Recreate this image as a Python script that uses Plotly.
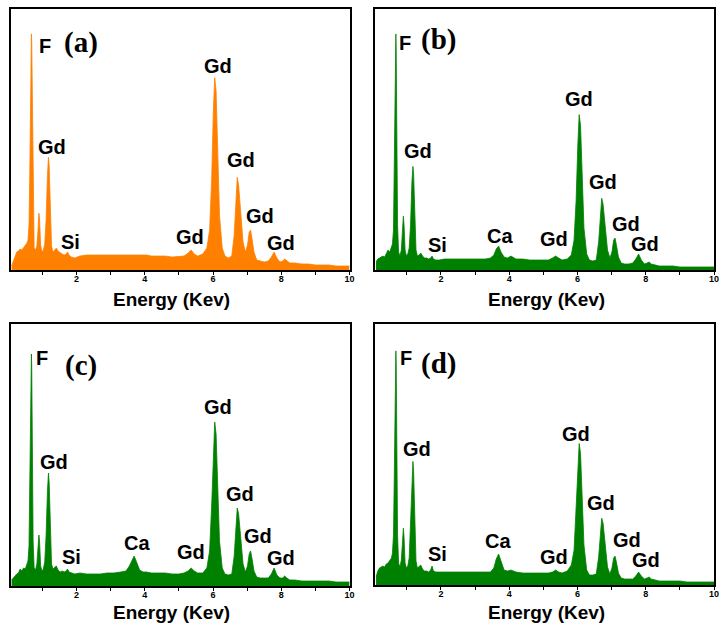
import plotly.graph_objects as go

# Energy grid (keV) shared by the four spectra
energy = [0.10, 0.15, 0.20, 0.25, 0.30, 0.35, 0.40, 0.45, 0.50, 0.55, 0.58, 0.61, 0.63, 0.65, 0.67, 0.68, 0.69,
          0.71, 0.73, 0.76, 0.80, 0.84, 0.87, 0.90, 0.92, 0.95, 0.99, 1.03, 1.07, 1.11, 1.15, 1.18, 1.20, 1.23,
          1.27, 1.31, 1.36, 1.41, 1.46, 1.52, 1.58, 1.64, 1.70, 1.74, 1.78, 1.85, 1.95, 2.1, 2.3, 2.5, 2.7, 2.9,
          3.1, 3.3, 3.45, 3.55, 3.62, 3.69, 3.76, 3.85, 3.95, 4.05, 4.2, 4.4, 4.6, 4.8, 5.0, 5.15, 5.27, 5.36,
          5.45, 5.55, 5.7, 5.82, 5.9, 5.96, 6.01, 6.05, 6.09, 6.13, 6.19, 6.27, 6.35, 6.45, 6.55, 6.62, 6.67,
          6.71, 6.75, 6.81, 6.88, 6.95, 7.01, 7.06, 7.10, 7.14, 7.20, 7.28, 7.38, 7.5, 7.62, 7.71, 7.79, 7.87,
          7.96, 8.04, 8.10, 8.16, 8.25, 8.4, 8.6, 8.8, 9.0, 9.2, 9.4, 9.6, 9.8, 10.0]

counts_a = [4, 9, 15, 18, 19, 21, 20, 22, 24, 27, 30, 45, 90, 170, 225, 237, 228,
            150, 60, 22, 20, 24, 38, 57, 50, 25, 18, 20, 26, 50, 95, 113, 105, 60,
            24, 18, 20, 22, 19, 17, 16, 15, 16, 18, 15, 13, 12, 14, 15, 15, 15, 15,
            15, 15, 15, 15, 15, 15, 15, 15, 15, 15, 14, 14, 14, 13, 14, 14, 17, 20,
            16, 14, 16, 22, 40, 90, 160, 193, 180, 120, 55, 22, 14, 12, 14, 35, 75,
            93, 85, 55, 28, 18, 25, 38, 40, 32, 18, 10, 9, 8, 9, 13, 18, 12,
            8, 9, 11, 9, 7, 7, 6, 6, 5, 5, 5, 4, 4, 4]

counts_b = [8, 11, 12, 13, 14, 13, 16, 20, 18, 22, 26, 40, 90, 180, 232, 237, 220,
            130, 45, 18, 14, 20, 35, 54, 45, 20, 14, 16, 22, 45, 88, 104, 96, 55,
            20, 14, 15, 17, 14, 12, 12, 11, 12, 14, 11, 10, 10, 11, 11, 11, 11, 11,
            11, 11, 12, 15, 21, 24, 18, 13, 12, 14, 11, 11, 10, 10, 10, 10, 12, 14,
            12, 10, 11, 15, 30, 70, 125, 156, 145, 95, 42, 16, 10, 9, 10, 28, 58,
            72, 66, 42, 20, 12, 18, 30, 32, 25, 13, 7, 6, 6, 7, 11, 16, 10,
            6, 7, 8, 6, 5, 4, 4, 4, 3, 3, 3, 3, 3, 3]

counts_c = [6, 8, 11, 12, 13, 17, 15, 18, 17, 22, 25, 40, 90, 175, 225, 232, 218,
            130, 45, 18, 16, 22, 38, 51, 44, 20, 15, 17, 24, 50, 95, 113, 104, 58,
            22, 17, 19, 20, 16, 14, 15, 14, 15, 17, 14, 13, 12, 13, 12, 12, 12, 13,
            13, 14, 15, 20, 26, 30, 24, 16, 14, 14, 13, 13, 13, 12, 12, 13, 15, 18,
            15, 13, 13, 18, 35, 80, 135, 164, 152, 100, 45, 18, 12, 11, 12, 30, 62,
            78, 72, 45, 22, 14, 20, 32, 35, 28, 15, 9, 8, 8, 8, 12, 18, 11,
            8, 8, 10, 8, 6, 6, 5, 5, 5, 5, 5, 4, 4, 4]

counts_d = [8, 14, 17, 18, 19, 18, 21, 22, 24, 27, 32, 50, 100, 185, 230, 235, 222,
            140, 50, 22, 18, 25, 42, 57, 48, 22, 17, 19, 27, 60, 105, 124, 114, 65,
            24, 17, 19, 20, 16, 14, 14, 13, 15, 19, 14, 13, 13, 13, 13, 13, 13, 13,
            13, 13, 13, 17, 26, 31, 24, 15, 14, 15, 13, 12, 12, 12, 12, 12, 13, 15,
            13, 12, 14, 20, 35, 75, 120, 142, 132, 88, 40, 15, 10, 10, 11, 28, 55,
            67, 62, 40, 18, 11, 17, 27, 29, 23, 12, 7, 6, 6, 6, 9, 13, 9,
            6, 7, 8, 6, 5, 4, 4, 4, 4, 3, 3, 3, 3, 3]

panel_names = ["(a)", "(b)", "(c)", "(d)"]
tick_values = [2, 4, 6, 8, 10]
tick_labels = ["2", "4", "6", "8", "10"]
axis_title = "Energy (Kev)"

# Peak labels per panel: (text, energy, height)
labels_a = [("F", 1.07, 225), ("Gd", 1.27, 123), ("Si", 1.82, 28), ("Gd", 5.34, 33), ("Gd", 6.16, 205),
            ("Gd", 6.83, 110), ("Gd", 7.38, 54), ("Gd", 8.0, 27)]
labels_b = [("F", 0.95, 228), ("Gd", 1.32, 119), ("Si", 1.89, 25), ("Ca", 3.74, 34), ("Gd", 5.31, 31),
            ("Gd", 6.04, 172), ("Gd", 6.74, 88), ("Gd", 7.42, 46), ("Gd", 7.98, 26)]
labels_c = [("F", 0.99, 228), ("Gd", 1.33, 124), ("Si", 1.84, 29), ("Ca", 3.76, 43), ("Gd", 5.35, 34),
            ("Gd", 6.16, 179), ("Gd", 6.79, 92), ("Gd", 7.32, 50), ("Gd", 7.98, 28)]
labels_d = [("F", 0.98, 228), ("Gd", 1.29, 137), ("Si", 1.90, 31), ("Ca", 3.66, 44), ("Gd", 5.31, 28),
            ("Gd", 5.97, 152), ("Gd", 6.70, 82), ("Gd", 7.46, 45), ("Gd", 8.0, 25)]
# panel-letter positions (energy, height)
letter_pos = [(2.12, 228), (1.92, 231), (2.14, 221), (1.92, 222)]

W, H = 722, 627
# panel frames in pixels: (left, right, top, bottom)
frames = [(11, 352, 9, 270), (378, 719, 9, 270), (11, 352, 324, 586), (378, 719, 324, 585)]
colors = ["#FF8000", "#008000", "#008000", "#008000"]
series = [counts_a, counts_b, counts_c, counts_d]
all_labels = [labels_a, labels_b, labels_c, labels_d]
title_pos = [(173, 299), (550, 299), (173, 612), (550, 612)]

fig = go.Figure()
annotations = []
for i in range(4):
    sfx = "" if i == 0 else str(i + 1)
    fig.add_trace(go.Scatter(x=energy, y=series[i], mode="lines", fill="tozeroy",
                             line=dict(color=colors[i], width=0.8), fillcolor=colors[i],
                             xaxis="x" + sfx, yaxis="y" + sfx, showlegend=False, hoverinfo="skip"))
    l, r, t, b = frames[i]
    fig.layout["xaxis" + sfx] = dict(
        domain=[l / W, r / W], range=[0.08, 10], anchor="y" + sfx,
        showline=True, linecolor="black", linewidth=1.5, mirror=True,
        showgrid=False, zeroline=False, ticks="outside", ticklen=3, tickwidth=1, tickcolor="black",
        tickvals=tick_values, ticktext=tick_labels, ticklabelstandoff=-4,
        tickfont=dict(family="Liberation Sans", size=9, color="black", weight="bold"),
        minor=dict(tickvals=[1, 3, 5, 7, 9], ticks="outside", ticklen=3, tickwidth=1, tickcolor="black"),
    )
    fig.layout["yaxis" + sfx] = dict(
        domain=[1 - b / H, 1 - t / H], range=[0, 262], anchor="x" + sfx,
        showline=True, linecolor="black", linewidth=1.5, mirror=True,
        showgrid=False, zeroline=False, showticklabels=False, ticks="",
    )
    for txt, ex, hy in all_labels[i]:
        annotations.append(dict(text=txt, x=ex, y=hy, xref="x" + sfx, yref="y" + sfx, showarrow=False,
                                font=dict(family="Liberation Sans", size=20, color="black", weight="bold")))
    lx, ly = letter_pos[i]
    annotations.append(dict(text=panel_names[i], x=lx, y=ly, xref="x" + sfx, yref="y" + sfx, showarrow=False,
                            font=dict(family="Liberation Serif", size=29, color="black", weight="bold")))
    tx, ty = title_pos[i]
    annotations.append(dict(text=axis_title, x=tx / W, y=1 - ty / H, xref="paper", yref="paper",
                            showarrow=False, xanchor="center", yanchor="middle",
                            font=dict(family="Liberation Sans", size=19, color="black", weight="bold")))

fig.update_layout(width=W, height=H, margin=dict(l=0, r=0, t=0, b=0),
                  paper_bgcolor="white", plot_bgcolor="white", annotations=annotations)
fig.write_html("out.html")
